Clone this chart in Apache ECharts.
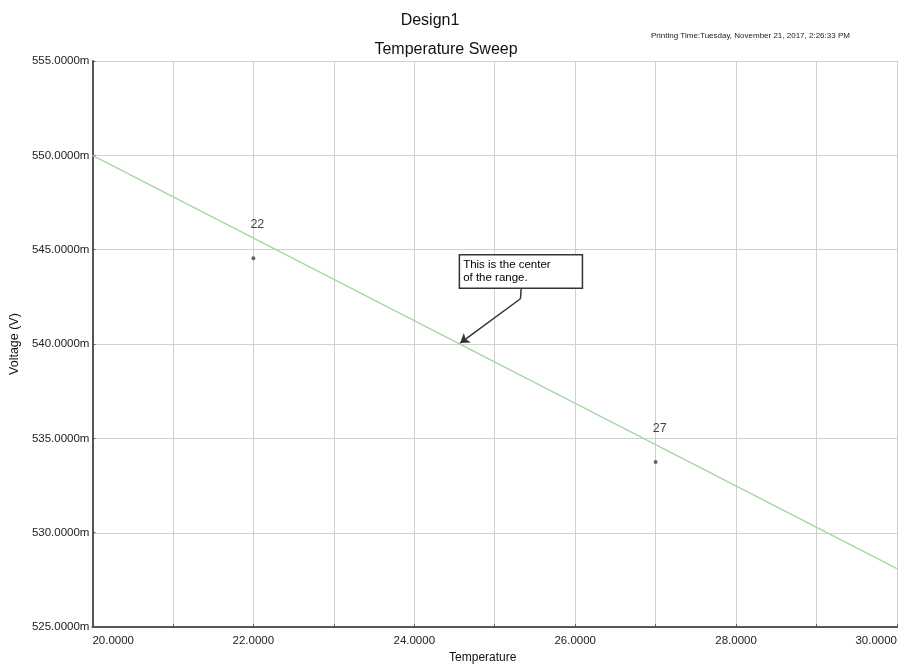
<!DOCTYPE html>
<html>
<head>
<meta charset="utf-8">
<script src="https://cdn.jsdelivr.net/npm/echarts@6/dist/echarts.min.js"></script>
<style>html,body{margin:0;padding:0;background:#fff}#c{width:900px;height:669px}</style>
</head>
<body>
<div id="c"></div>
<script>
// Data
const sweepLine = [[20, 550.0], [30, 528.1]];           // Temperature vs Voltage (mV)
const markerPoints = [[22, 544.55, '22'], [27, 533.75, '27']];
const annotationText = 'This is the center\nof the range.';
const annotationBoxAt = [24.57, 543.85];
const arrowPath = [[25.33, 543.0], [25.32, 542.4], [24.57, 540.05]];
const xTicks = { min: 20, max: 30, step: 1 };
const yTicks = { min: 525, max: 555, step: 5 };

const FONT = 'Liberation Sans, Arial, sans-serif';
const chart = echarts.init(document.getElementById('c'));
chart.setOption({
  backgroundColor: '#fff',
  animation: false,
  textStyle: { fontFamily: FONT },
  title: [
    { text: 'Design1', left: 425, top: 8, textAlign: 'center',
      textStyle: { fontFamily: FONT, fontSize: 16, fontWeight: 'normal', color: '#111' } },
    { text: 'Temperature Sweep', left: 441, top: 37, textAlign: 'center',
      textStyle: { fontFamily: FONT, fontSize: 16, fontWeight: 'normal', color: '#111' } },
    { text: 'Printing Time:Tuesday, November 21, 2017, 2:26:33 PM', left: 646, top: 27,
      textStyle: { fontFamily: FONT, fontSize: 8, fontWeight: 'normal', color: '#222' } }
  ],
  grid: { left: 90, right: 1, top: 61, bottom: 38 },
  xAxis: {
    type: 'value', min: xTicks.min, max: xTicks.max, interval: xTicks.step,
    name: 'Temperature', nameLocation: 'middle', nameGap: 24,
    nameTextStyle: { fontSize: 12, color: '#111', fontFamily: FONT, padding: [0, 24, 0, 0] },
    axisLine: { show: true, onZero: false, lineStyle: { color: '#555', width: 2 } },
    axisTick: { show: true, length: 3, inside: true, lineStyle: { color: '#555' } },
    axisLabel: {
      fontSize: 11.5, color: '#222', margin: 8,
      alignMinLabel: 'left', alignMaxLabel: 'right',
      formatter: v => (Math.round(v) % 2 === 0 ? v.toFixed(4) : '')
    },
    splitLine: { show: true, lineStyle: { color: '#d0d0d0', width: 1 } }
  },
  yAxis: {
    type: 'value', min: yTicks.min, max: yTicks.max, interval: yTicks.step,
    name: 'Voltage (V)', nameLocation: 'middle', nameGap: 71, nameRotate: 90,
    nameTextStyle: { fontSize: 12.5, color: '#111', fontFamily: FONT },
    axisLine: { show: true, onZero: false, lineStyle: { color: '#555', width: 2 } },
    axisTick: { show: true, length: 3, inside: true, lineStyle: { color: '#555' } },
    axisLabel: { fontSize: 11.5, color: '#222', margin: 3, formatter: v => v.toFixed(4) + 'm' },
    splitLine: { show: true, lineStyle: { color: '#d0d0d0', width: 1 } }
  },
  series: [
    {
      type: 'line', data: sweepLine, showSymbol: false, silent: true,
      lineStyle: { color: '#a3d7a3', width: 1.3 },
      markLine: {
        silent: true,
        label: { show: false },
        lineStyle: { color: '#333', width: 1.5, type: 'solid' },
        symbolSize: 9,
        data: [
          [{ coord: arrowPath[0], symbol: 'none' }, { coord: arrowPath[1], symbol: 'none' }],
          [{ coord: arrowPath[1], symbol: 'none' }, { coord: arrowPath[2], symbol: 'arrow' }]
        ]
      },
      markPoint: {
        silent: true,
        symbol: 'rect', symbolSize: 0,
        data: [{ coord: annotationBoxAt, value: 0 }],
        label: {
          show: true, position: 'inside',
          formatter: annotationText,
          color: '#000', fontSize: 11.5, lineHeight: 13, fontFamily: FONT,
          align: 'left',
          backgroundColor: '#fff', borderColor: '#333', borderWidth: 1.5,
          padding: [3, 31, 3, 3]
        }
      }
    },
    {
      type: 'scatter', data: markerPoints, symbol: 'circle', symbolSize: 4,
      itemStyle: { color: '#444' },
      label: {
        show: true, position: 'top', distance: 25, offset: [4, 0],
        formatter: p => p.data[2], color: '#111', fontSize: 12.5, fontFamily: FONT
      }
    }
  ]
});
</script>
</body>
</html>
